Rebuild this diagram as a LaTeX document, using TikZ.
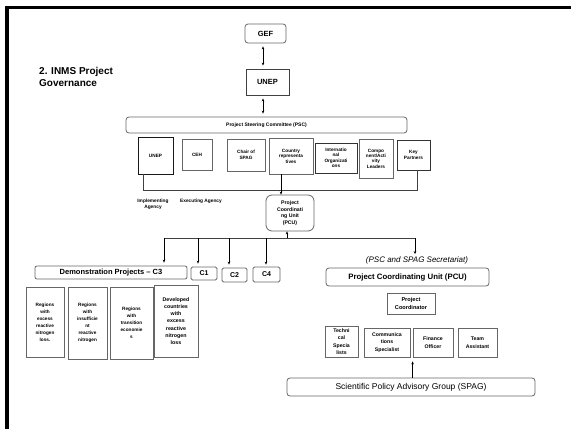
\documentclass[tikz,border=0pt]{standalone}
\usepackage{fontspec}
\setmainfont{Liberation Sans}
\usetikzlibrary{arrows.meta}
\newcommand{\fsz}[2]{\fontsize{#1}{#2}\selectfont}
\begin{document}
\begin{tikzpicture}[x=1pt,y=-1pt,
 box/.style={draw=black!60, line width=0.8pt, inner sep=0pt, align=center, fill=white},
 rbox/.style={box, rounded corners=3pt},
 arr/.style={-{Stealth[length=3pt,width=2.6pt]}, line width=0.6pt},
 darr/.style={{Stealth[length=3pt,width=2.6pt]}-{Stealth[length=3pt,width=2.6pt]}, line width=0.6pt},
 ln/.style={line width=0.7pt, draw=black!75},
 psub/.style={box, font=\bfseries\fsz{4.7}{5.4}},
 reg/.style={box, font=\bfseries\fsz{4.7}{7}},
 staff/.style={box, font=\bfseries\fsz{5.2}{7.5}},
 cbox/.style={box, rounded corners=1.5pt, font=\bfseries\fsz{7}{8}},
]
\useasboundingbox (0,0) rectangle (571,429);
\fill[black] (5,6) rectangle (571,9);
\fill[black] (5,6) rectangle (9,429);

\node[anchor=north west, align=left, inner sep=0pt, font=\bfseries\fsz{10}{12}] (title) at (39,67) {2. INMS Project\\Governance};

\node[rbox, minimum width=41pt, minimum height=19pt, font=\bfseries\fsz{7.5}{9}] (gef) at (265.5,33.5) {GEF};
\node[box, draw=black!75, line width=0.9pt, minimum width=43pt, minimum height=26pt, font=\bfseries\fsz{7.5}{9}] (unep) at (267.5,82) {UNEP};
\node[rbox, minimum width=281pt, minimum height=16pt, font=\bfseries\fsz{5}{6}] (psc) at (266.5,125) {Project Steering Committee (PSC)};

\coordinate (ga) at (263,0);
\draw[darr, shorten <=3pt, shorten >=3pt] (gef.south -| ga) -- (unep.north -| ga);
\draw[darr, shorten <=3pt, shorten >=3pt] (unep.south -| ga) -- (psc.north -| ga);

\node[psub, draw=black!90, minimum width=35pt, minimum height=37pt] (unep2) at (155.5,155.5) {UNEP};
\node[psub, minimum width=30pt, minimum height=31pt] (ceh) at (197,154.5) {CEH};
\node[psub, minimum width=38pt, minimum height=32pt] (chair) at (246,155) {Chair of\\SPAG};
\node[psub, minimum width=44pt, minimum height=36pt] (country) at (291,156) {Country\\representa\\tives};
\node[psub, draw=black!80, minimum width=42pt, minimum height=30pt] (intl) at (336,158) {Internatio\\nal\\Organizati\\ons};
\node[psub, minimum width=34pt, minimum height=39pt] (comp) at (376,158.5) {Compo\\nent/Acti\\vity\\Leaders};
\node[psub, draw=black!80, minimum width=33pt, minimum height=30pt] (key) at (413.5,155) {Key\\Partners};

\coordinate (la) at (143,190);
\coordinate (lb) at (417,190);
\draw[ln] (unep2.south -| la) -- (la) -- (lb) -- (key.south -| lb);

\node[box, rounded corners=6pt, minimum width=48pt, minimum height=36pt, font=\bfseries\fsz{5.2}{6.5}] (pcu) at (290,213) {Project\\Coordinati\\ng Unit\\(PCU)};
\coordinate (ca) at (281,0);
\draw[arr] (country.south -| ca) -- (pcu.north -| ca);

\node[align=center, inner sep=0pt, font=\bfseries\fsz{4.8}{6}] (impl) at (153,204) {Implementing\\Agency};
\node[align=center, inner sep=0pt, font=\bfseries\fsz{4.8}{6}] (exec) at (201,201) {Executing Agency};

% lower left
\node[box, rounded corners=2pt, minimum width=152pt, minimum height=13pt, font=\bfseries\fsz{7.5}{8}] (demo) at (111,272.5) {Demonstration Projects -- C3};
\node[cbox, minimum width=26pt, minimum height=13pt] (c1) at (204,273.5) {C1};
\node[cbox, minimum width=25pt, minimum height=14pt] (c2) at (234.5,275) {C2};
\node[cbox, minimum width=27pt, minimum height=15pt] (c4) at (266.5,274.5) {C4};

\node[reg, minimum width=38pt, minimum height=70pt] (r1) at (45,322) {Regions\\with\\excess\\reactive\\nitrogen\\loss.};
\node[reg, minimum width=39pt, minimum height=72pt] (r2) at (87.5,323) {Regions\\with\\insufficie\\nt\\reactive\\nitrogen};
\node[reg, minimum width=43pt, minimum height=72pt] (r3) at (131.5,323) {Regions\\with\\transition\\economie\\s};
\node[box, font=\bfseries\fsz{5.3}{7.3}, minimum width=44pt, minimum height=72pt] (r4) at (176,321) {Developed\\countries\\with\\excess\\reactive\\nitrogen\\loss};

% right
\node[inner sep=0pt, font=\itshape\fsz{8}{9}] (sec) at (417,260) {(PSC and SPAG Secretariat)};
\node[rbox, minimum width=163pt, minimum height=18pt, font=\bfseries\fsz{7.8}{9}] (pcu2) at (407.5,277) {Project Coordinating Unit (PCU)};
\node[box, minimum width=48pt, minimum height=21pt, font=\bfseries\fsz{5.6}{8}] (pc) at (411,303.5) {Project\\Coordinator};
\node[staff, minimum width=33pt, minimum height=31pt] (tech) at (341.5,341.5) {Techni\\cal\\Specia\\lists};
\node[staff, minimum width=46pt, minimum height=29pt] (comm) at (387,342.5) {Communica\\tions\\Specialist};
\node[staff, minimum width=40pt, minimum height=29pt] (fin) at (433,342.5) {Finance\\Officer};
\node[staff, minimum width=39pt, minimum height=29pt] (team) at (477.5,342.5) {Team\\Assistant};
\node[rbox, minimum width=248pt, minimum height=18pt, font=\fsz{8.5}{9}] (spag) at (411,387) {Scientific Policy Advisory Group (SPAG)};

\draw[arr, shorten >=4pt] (spag.north -| fin.south west) -- (fin.south west);

% bus below PCU
\coordinate (bl) at (164,238);
\coordinate (br) at (415,238);
\coordinate (bu) at (287,238);
\coordinate (x1) at (198,238);
\coordinate (x2) at (229,238);
\coordinate (x4) at (266,238);
\draw[ln] (bl) -- (br);
\draw[arr] (bu) -- (pcu.south -| bu);
\draw[arr, shorten >=3pt] (bl) -- (demo.north -| bl);
\draw[arr, shorten >=3pt] (x1) -- (c1.north -| x1);
\draw[arr, shorten >=3pt] (x2) -- (c2.north -| x2);
\draw[arr, shorten >=2pt] (x4) -- (c4.north -| x4);
\draw[arr, shorten >=2pt] (br) -- (sec.north -| br);
\end{tikzpicture}
\end{document}
